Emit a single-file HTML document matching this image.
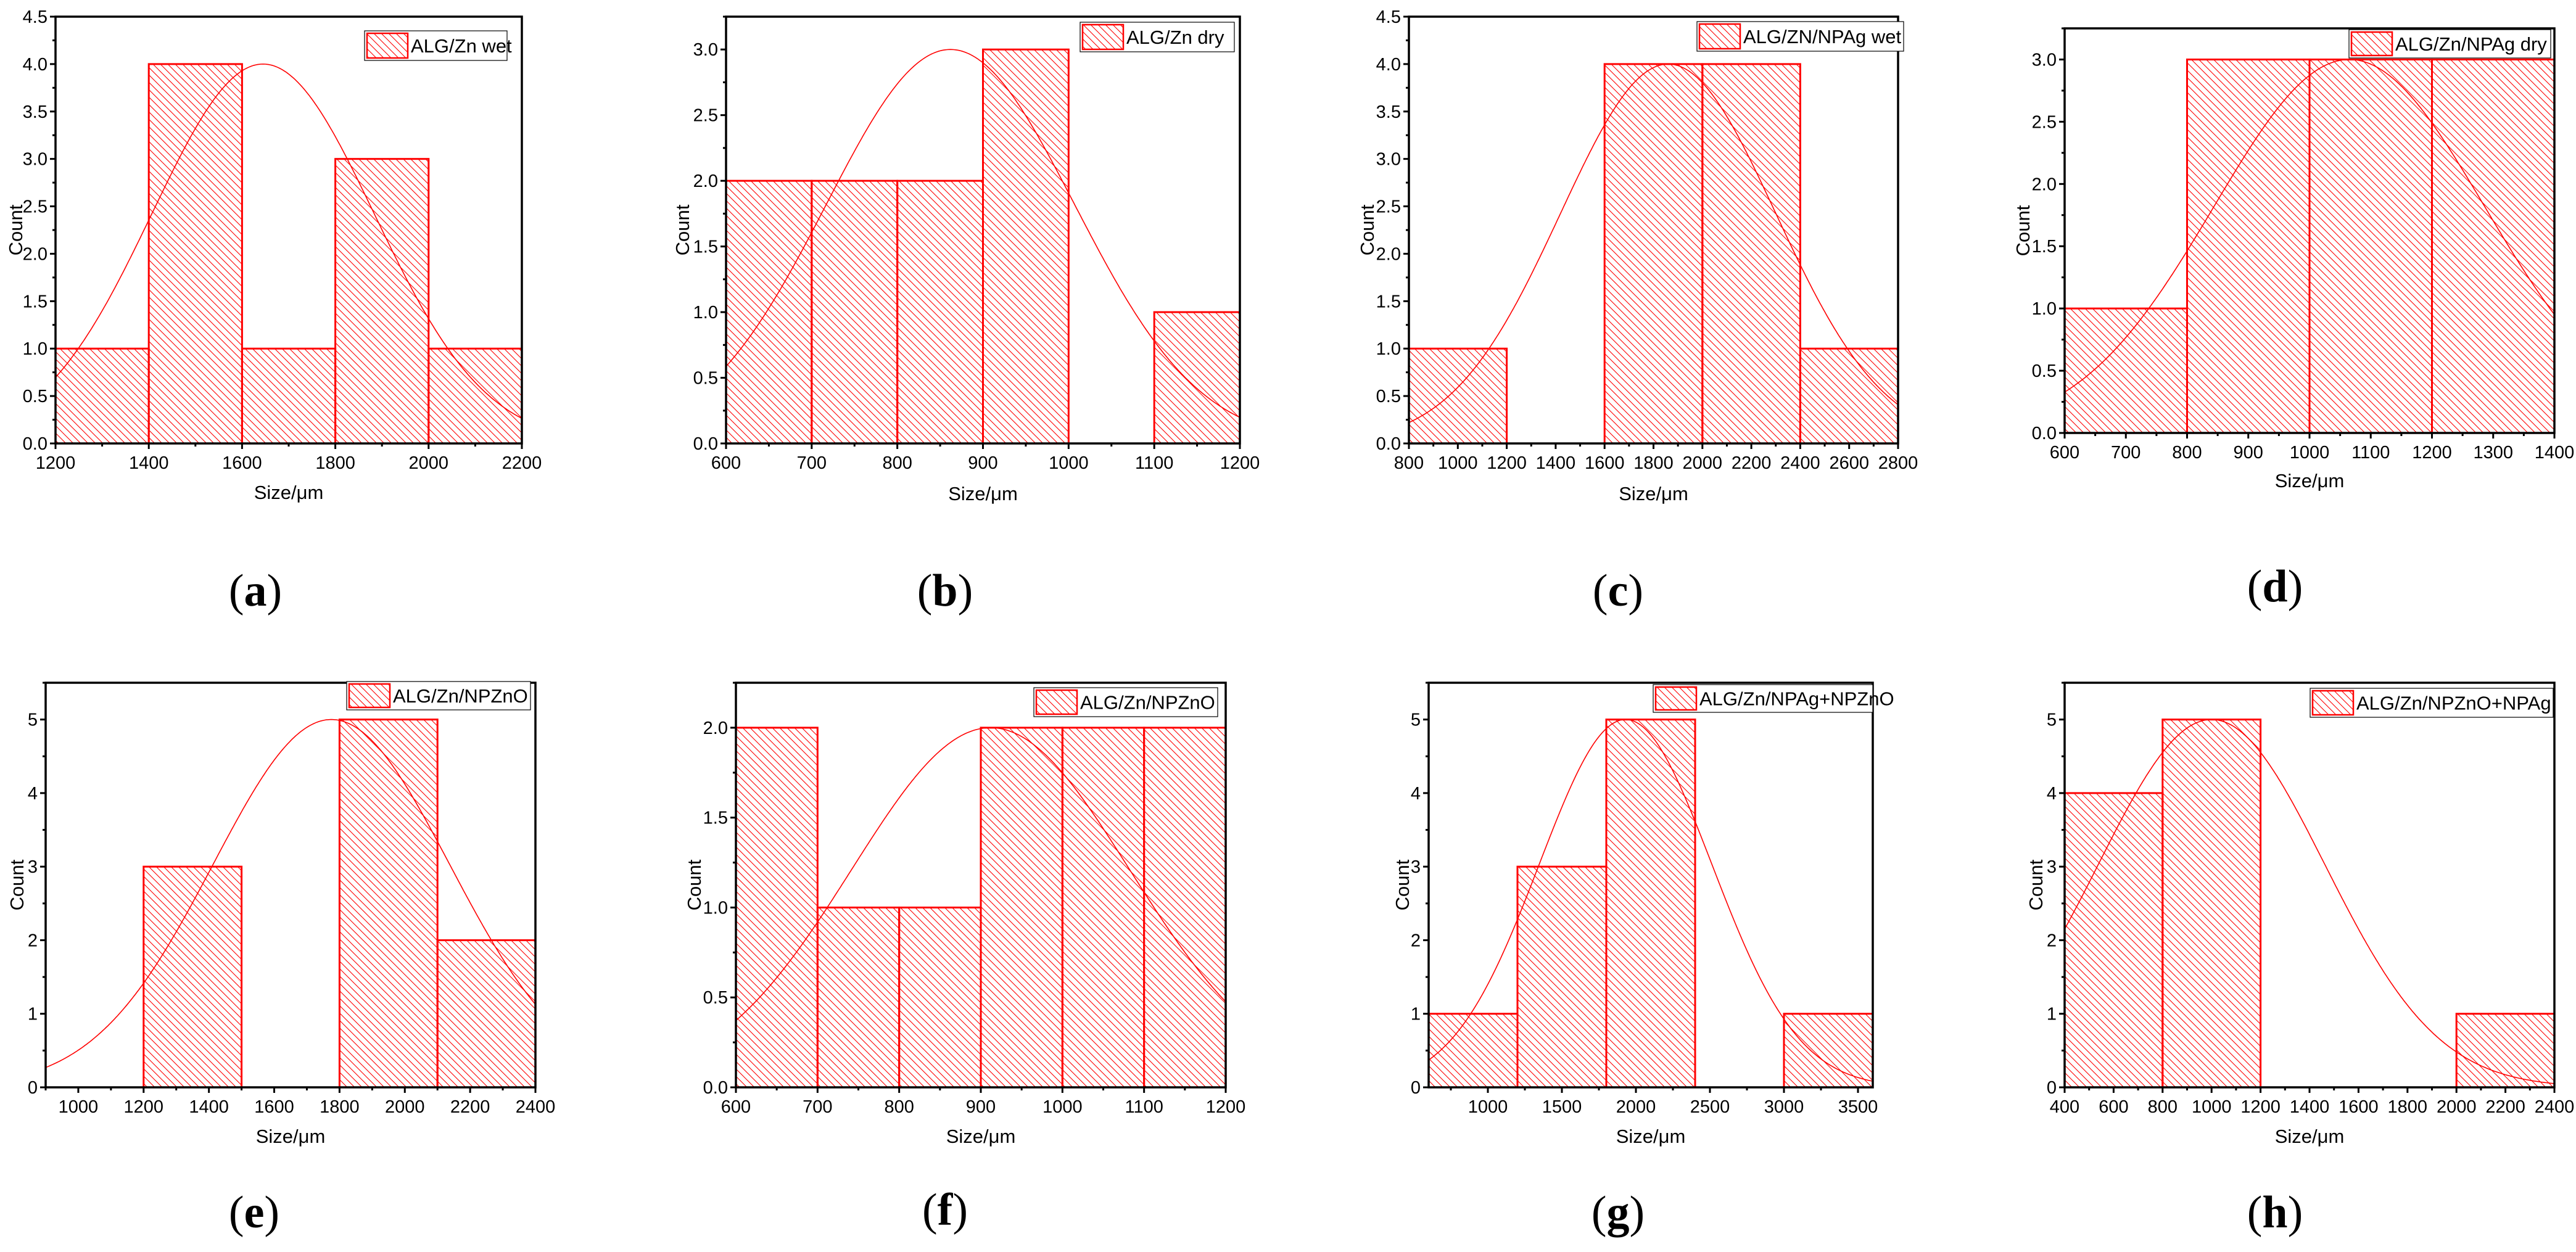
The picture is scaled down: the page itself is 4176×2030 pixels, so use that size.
<!DOCTYPE html>
<html><head><meta charset="utf-8">
<style>
html,body{margin:0;padding:0;background:#fff;}
svg{display:block;}
text{font-family:"Liberation Sans",Arial,sans-serif;fill:#000;}
.lbl{font-family:"Liberation Serif","Times New Roman",serif;}
</style></head>
<body>
<svg id="fig" width="4176" height="2030" viewBox="0 0 4176 2030" xmlns="http://www.w3.org/2000/svg">
<defs>
<pattern id="hatch" patternUnits="userSpaceOnUse" width="12" height="12">
<line x1="-6" y1="-6" x2="18" y2="18" stroke="#ff0000" stroke-width="1.1"/>
<line x1="-6" y1="6" x2="6" y2="18" stroke="#ff0000" stroke-width="1.1"/>
<line x1="6" y1="-6" x2="18" y2="6" stroke="#ff0000" stroke-width="1.1"/>
</pattern>
</defs>
</svg>
<script>
// ---- data (bin edges, counts, normal fit [mean, sigma, peak]) ----
const edgesA=[1200,1400,1600,1800,2000,2200];  const countsA=[1,4,1,3,1]; const fitA=[1645,238,4];
const edgesB=[600,700,800,900,1000,1100,1200];  const countsB=[2,2,2,3,0,1]; const fitB=[862,145,3];
const edgesC=[800,1200,1600,2000,2400,2800];   const countsC=[1,0,4,4,1]; const fitC=[1860,440,4];
const edgesD=[600,800,1000,1200,1400];         const countsD=[1,3,3,3]; const fitD=[1065,221,3];
const edgesE=[900,1200,1500,1800,2100,2400];   const countsE=[0,3,0,5,2]; const fitE=[1775,362,5];
const edgesF=[600,700,800,900,1000,1100,1200]; const countsF=[2,1,1,2,2,2]; const fitF=[912,170,2];
const edgesG=[600,1200,1800,2400,3000,3600];   const countsG=[1,3,5,0,1]; const fitG=[1930,583,5];
const edgesH=[400,800,1200,1600,2000,2400];    const countsH=[4,5,0,0,1]; const fitH=[1000,462,5];
const legendNames=["ALG/Zn wet","ALG/Zn dry","ALG/ZN/NPAg wet","ALG/Zn/NPAg dry","ALG/Zn/NPZnO","ALG/Zn/NPZnO","ALG/Zn/NPAg+NPZnO","ALG/Zn/NPZnO+NPAg"];
const panelLetters=["a","b","c","d","e","f","g","h"];
const xTickStepA=200, xTickStepB=100, xTickStepC=200, xTickStepD=100, xTickStepE=200, xTickStepF=100, xTickStepG=500, xTickStepH=200;
const yMaxList=[4.5,3.25,4.5,3.25,5.5,2.25,5.5,5.5];
const yStepList=[0.5,0.5,0.5,0.5,1,0.5,1,1];

// ---- layout (pixels) ----
const layout=[
 {L:90,T:27,R:846,B:719,  lg:[591,50,822,98],   xt:798, lb:[414,957], cy:25},
 {L:1177,T:27,R:2010,B:719,lg:[1751,36,2001,84], xt:800, lb:[1532,957], cy:1106},
 {L:2284,T:27,R:3077,B:719,lg:[2751,35,3086,83], xt:800, lb:[2623,957], cy:2216},
 {L:3347,T:46,R:4141,B:702,lg:[3808,48,4135,94], xt:779, lb:[3688,950], cy:3279},
 {L:74,T:1107,R:868,B:1763,lg:[562,1105,860,1151], xt:1842, lb:[412,1965], cy:27},
 {L:1193,T:1107,R:1987,B:1763,lg:[1676,1115,1974,1162], xt:1842, lb:[1532,1961], cy:1125},
 {L:2316,T:1107,R:3036,B:1763,lg:[2680,1110,3036,1155], xt:1842, lb:[2623,1965], cy:2273},
 {L:3347,T:1107,R:4141,B:1763,lg:[3745,1116,4139,1163], xt:1842, lb:[3688,1965], cy:3300}
];
const allEdges=[edgesA,edgesB,edgesC,edgesD,edgesE,edgesF,edgesG,edgesH];
const allCounts=[countsA,countsB,countsC,countsD,countsE,countsF,countsG,countsH];
const allFits=[fitA,fitB,fitC,fitD,fitE,fitF,fitG,fitH];
const allXSteps=[xTickStepA,xTickStepB,xTickStepC,xTickStepD,xTickStepE,xTickStepF,xTickStepG,xTickStepH];

const NS="http://www.w3.org/2000/svg";
const svg=document.getElementById('fig');
function mk(tag,attrs,parent){const e=document.createElementNS(NS,tag);for(const k in attrs)e.setAttribute(k,attrs[k]);(parent||svg).appendChild(e);return e;}

for(let p=0;p<8;p++){
  const lo=layout[p], edges=allEdges[p], counts=allCounts[p], fit=allFits[p];
  const xmin=edges[0], xmax=edges[edges.length-1], ymax=yMaxList[p], ystep=yStepList[p], xstep=allXSteps[p];
  const X=v=>lo.L+(v-xmin)/(xmax-xmin)*(lo.R-lo.L);
  const Y=v=>lo.B-(v/ymax)*(lo.B-lo.T);
  const g=mk('g',{});
  
  
  for(let i=0;i<counts.length;i++){
    if(counts[i]<=0) continue;
    const r=mk('rect',{x:X(edges[i]),y:Y(counts[i]),width:X(edges[i+1])-X(edges[i]),height:lo.B-Y(counts[i]),fill:'url(#hatch)',stroke:'#ff0000','stroke-width':3},g);
    
    
  }
  let d='';
  for(let k=0;k<=300;k++){
    const x=xmin+(xmax-xmin)*k/300;
    const y=fit[2]*Math.exp(-Math.pow(x-fit[0],2)/(2*fit[1]*fit[1]));
    d+=(k?'L':'M')+X(x).toFixed(1)+','+Y(y).toFixed(1);
  }
  const c=mk('path',{d:d,fill:'none',stroke:'#ff0000','stroke-width':1.6},g);
  
  
  const fr=mk('rect',{x:lo.L,y:lo.T,width:lo.R-lo.L,height:lo.B-lo.T,fill:'none',stroke:'#000','stroke-width':3.5},g);
  
  
  const ydec=(ystep<1)?1:0;
  for(let v=0;v<=ymax+1e-9;v+=ystep/2){
    const major=Math.abs(v/ystep-Math.round(v/ystep))<1e-6;
    const yy=Y(v);
    mk('line',{x1:lo.L,x2:lo.L-(major?9:5),y1:yy,y2:yy,stroke:'#000','stroke-width':3},g);
    if(major){
      const t=mk('text',{x:lo.L-13,y:yy+10,'text-anchor':'end','font-size':29},g);
      t.textContent=v.toFixed(ydec);
      
      
    }
  }
  const half=xstep/2;
  for(let v=Math.ceil(xmin/half)*half;v<=xmax+1e-9;v+=half){
    const major=Math.abs(v/xstep-Math.round(v/xstep))<1e-6;
    const xx=X(v);
    mk('line',{x1:xx,x2:xx,y1:lo.B,y2:lo.B+(major?9:5),stroke:'#000','stroke-width':3},g);
    if(major){
      const t=mk('text',{x:xx,y:lo.B+41,'text-anchor':'middle','font-size':29},g);
      t.textContent=String(v);
      
      
    }
  }
  const xt=mk('text',{x:(lo.L+lo.R)/2,y:lo.xt+11,'text-anchor':'middle','font-size':31},g);
  xt.textContent='Size/\u03bcm';
  
  
  const cyv=(lo.T+lo.B)/2;
  const yt=mk('text',{x:lo.cy+11,y:cyv,'text-anchor':'middle','font-size':31,transform:'rotate(-90 '+(lo.cy+11)+' '+cyv+')'},g);
  yt.textContent='Count';
  
  
  const lg=lo.lg;
  const lb=mk('rect',{x:lg[0],y:lg[1],width:lg[2]-lg[0],height:lg[3]-lg[1],fill:'#fff',stroke:'#000','stroke-width':1.2},g);
  
  
  const sh=lg[3]-lg[1]-8;
  const sw=mk('rect',{x:lg[0]+4,y:lg[1]+4,width:66,height:sh,fill:'url(#hatch)',stroke:'#ff0000','stroke-width':2.5},g);
  
  
  const lt=mk('text',{x:lg[0]+75,y:(lg[1]+lg[3])/2+11,'font-size':31},g);
  lt.textContent=legendNames[p];
  
  
  const pl=mk('text',{x:lo.lb[0],y:lo.lb[1]+25,'text-anchor':'middle','font-size':74,'class':'lbl'},g);
  pl.innerHTML='(<tspan font-weight="bold">'+panelLetters[p]+'</tspan>)';
  
  
}
</script>
</body></html>
